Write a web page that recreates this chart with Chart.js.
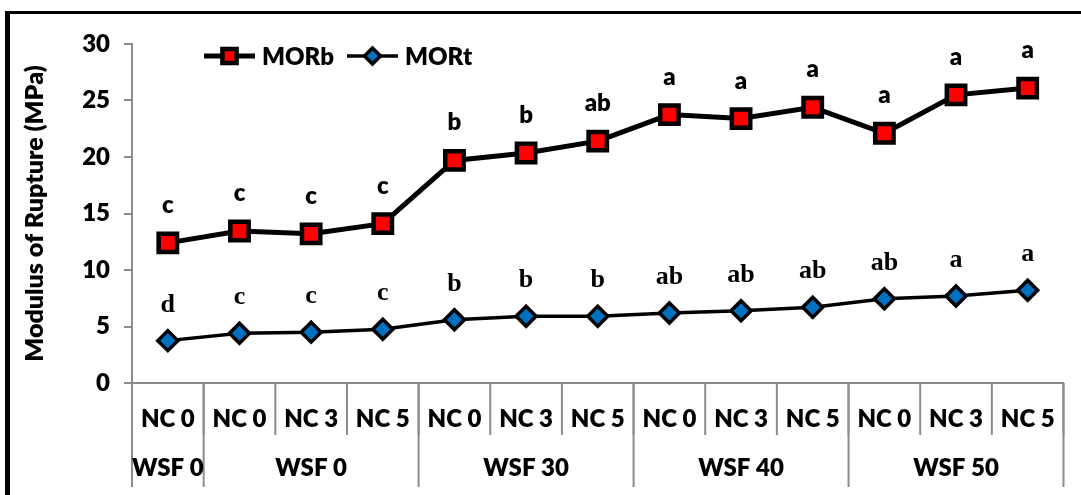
<!DOCTYPE html>
<html>
<head>
<meta charset="utf-8">
<script src="https://cdn.jsdelivr.net/npm/chart.js@4/dist/chart.umd.min.js"></script>
<style>
  html, body { margin: 0; padding: 0; background: #fff; }
  #wrap { position: relative; width: 1081px; height: 495px; overflow: hidden; }
  #frame { position: absolute; left: 5px; top: 11px; width: 1100px; height: 500px;
           border-left: 5px solid #000; border-top: 3px solid #000; }
  canvas { position: absolute; left: 0; top: 0; }
</style>
</head>
<body>
<div id="wrap">
  <div id="frame"></div>
  <canvas id="chart" width="1081" height="495"></canvas>
</div>
<script>
const ncLabels = ['NC 0', 'NC 0', 'NC 3', 'NC 5', 'NC 0', 'NC 3', 'NC 5', 'NC 0', 'NC 3', 'NC 5', 'NC 0', 'NC 3', 'NC 5'];
const groupLabels = ['WSF 0', 'WSF 0', 'WSF 30', 'WSF 40', 'WSF 50'];
const groupSizes = [1, 3, 3, 3, 3];

const morb = [12.4, 13.45, 13.2, 14.1, 19.7, 20.35, 21.4, 23.75, 23.4, 24.4, 22.1, 25.5, 26.1];
const mort = [3.75, 4.4, 4.5, 4.75, 5.6, 5.9, 5.9, 6.2, 6.4, 6.7, 7.45, 7.7, 8.2];
const morbLetters = ['c', 'c', 'c', 'c', 'b', 'b', 'ab', 'a', 'a', 'a', 'a', 'a', 'a'];
const mortLetters = ['d', 'c', 'c', 'c', 'b', 'b', 'b', 'ab', 'ab', 'ab', 'ab', 'a', 'a'];

const yTicks = [0, 5, 10, 15, 20, 25, 30];

const SANS = 'Lato, "Open Sans", sans-serif';
const SERIF = '"Liberation Serif", "DejaVu Serif", serif';
const GREY = '#8c8c8c';
const W = '800';

// draws separators, group row, legend, axis title and the letters
const extras = {
  id: 'extras',
  afterDraw(chart) {
    const ctx = chart.ctx;
    const x = chart.scales.x;
    const y = chart.scales.y;
    const step = x.width / ncLabels.length;
    const bottom = x.top;

    ctx.save();
    ctx.strokeStyle = GREY;
    ctx.lineWidth = 2;

    // first row separators
    for (let i = 1; i <= ncLabels.length; i++) {
      const px = x.left + i * step;
      ctx.beginPath();
      ctx.moveTo(px, bottom);
      ctx.lineTo(px, bottom + 52);
      ctx.stroke();
    }
    // group separators + labels
    let start = 0;
    ctx.fillStyle = '#000';
    ctx.font = W + ' 24px ' + SANS;
    ctx.textAlign = 'center';
    ctx.textBaseline = 'middle';
    const edges = [0];
    groupSizes.forEach(n => { start += n; edges.push(start); });
    edges.forEach(e => {
      const px = x.left + e * step;
      ctx.beginPath();
      ctx.moveTo(px, bottom);
      ctx.lineTo(px, bottom + 104);
      ctx.stroke();
    });
    groupLabels.forEach((lab, i) => {
      const cx = x.left + (edges[i] + edges[i + 1]) / 2 * step;
      ctx.fillText(lab, cx, bottom + 85);
    });

    // axis title
    ctx.save();
    ctx.translate(35, (chart.chartArea.top + chart.chartArea.bottom) / 2);
    ctx.rotate(-Math.PI / 2);
    ctx.font = W + ' 25px ' + SANS;
    ctx.fillText('Modulus of Rupture (MPa)', 0, 0);
    ctx.restore();

    // letters
    ctx.textBaseline = 'alphabetic';
    ctx.font = W + ' 24px ' + SANS;
    morb.forEach((v, i) => {
      ctx.fillText(morbLetters[i], x.getPixelForValue(i), y.getPixelForValue(v) - 30);
    });
    ctx.font = 'bold 26px ' + SERIF;
    mort.forEach((v, i) => {
      ctx.fillText(mortLetters[i], x.getPixelForValue(i), y.getPixelForValue(v) - 29);
    });

    // legend
    const ly = 56;
    const items = [
      { ds: chart.data.datasets[0], x0: 204, x1: 255, r: 10, lw: 5 },
      { ds: chart.data.datasets[1], x0: 347, x1: 398, r: 8, lw: 3.5 }
    ];
    ctx.textAlign = 'left';
    ctx.textBaseline = 'middle';
    ctx.font = W + ' 24px ' + SANS;
    items.forEach(it => {
      ctx.strokeStyle = '#000';
      ctx.lineWidth = it.lw;
      ctx.beginPath();
      ctx.moveTo(it.x0, ly);
      ctx.lineTo(it.x1, ly);
      ctx.stroke();
      ctx.fillStyle = it.ds.pointBackgroundColor;
      ctx.lineWidth = it.ds.pointBorderWidth;
      Chart.helpers.drawPoint(ctx, { pointStyle: it.ds.pointStyle, rotation: 0, radius: it.r, borderWidth: it.ds.pointBorderWidth }, (it.x0 + it.x1) / 2, ly);
      ctx.fillStyle = '#000';
      ctx.fillText(it.ds.label, it.x1 + 7, ly + 1);
    });
    ctx.restore();
  }
};

new Chart(document.getElementById('chart'), {
  type: 'line',
  data: {
    labels: ncLabels,
    datasets: [{
      label: 'MORb',
      data: morb,
      borderColor: '#000',
      borderWidth: 5,
      pointStyle: 'rect',
      pointRadius: 13,
      pointBackgroundColor: '#ff0000',
      pointBorderColor: '#000',
      pointBorderWidth: 4.5,
      tension: 0
    }, {
      label: 'MORt',
      data: mort,
      borderColor: '#000',
      borderWidth: 3.5,
      pointStyle: 'rectRot',
      pointRadius: 10,
      pointBackgroundColor: '#0070c0',
      pointBorderColor: '#000',
      pointBorderWidth: 3.5,
      tension: 0
    }]
  },
  options: {
    responsive: false,
    animation: false,
    events: [],
    layout: { padding: { left: 0, top: 44, right: 13, bottom: 0 } },
    plugins: { legend: { display: false }, tooltip: { enabled: false } },
    scales: {
      x: {
        offset: true,
        grid: { display: false },
        border: { color: GREY, width: 2 },
        ticks: {
          color: '#000',
          font: { family: SANS, size: 24, weight: W },
          maxRotation: 0,
          autoSkip: false,
          padding: 14
        },
        afterFit(scale) { scale.height = 112; }
      },
      y: {
        min: 0,
        max: 30,
        afterBuildTicks(scale) { scale.ticks = yTicks.map(v => ({ value: v })); },
        grid: { drawOnChartArea: false, drawTicks: true, tickLength: 8, color: GREY, lineWidth: 2 },
        border: { color: GREY, width: 2 },
        ticks: {
          color: '#000',
          font: { family: SANS, size: 24, weight: W },
          padding: 14
        },
        afterFit(scale) { scale.width = 132; }
      }
    }
  },
  plugins: [extras]
});
</script>
</body>
</html>
